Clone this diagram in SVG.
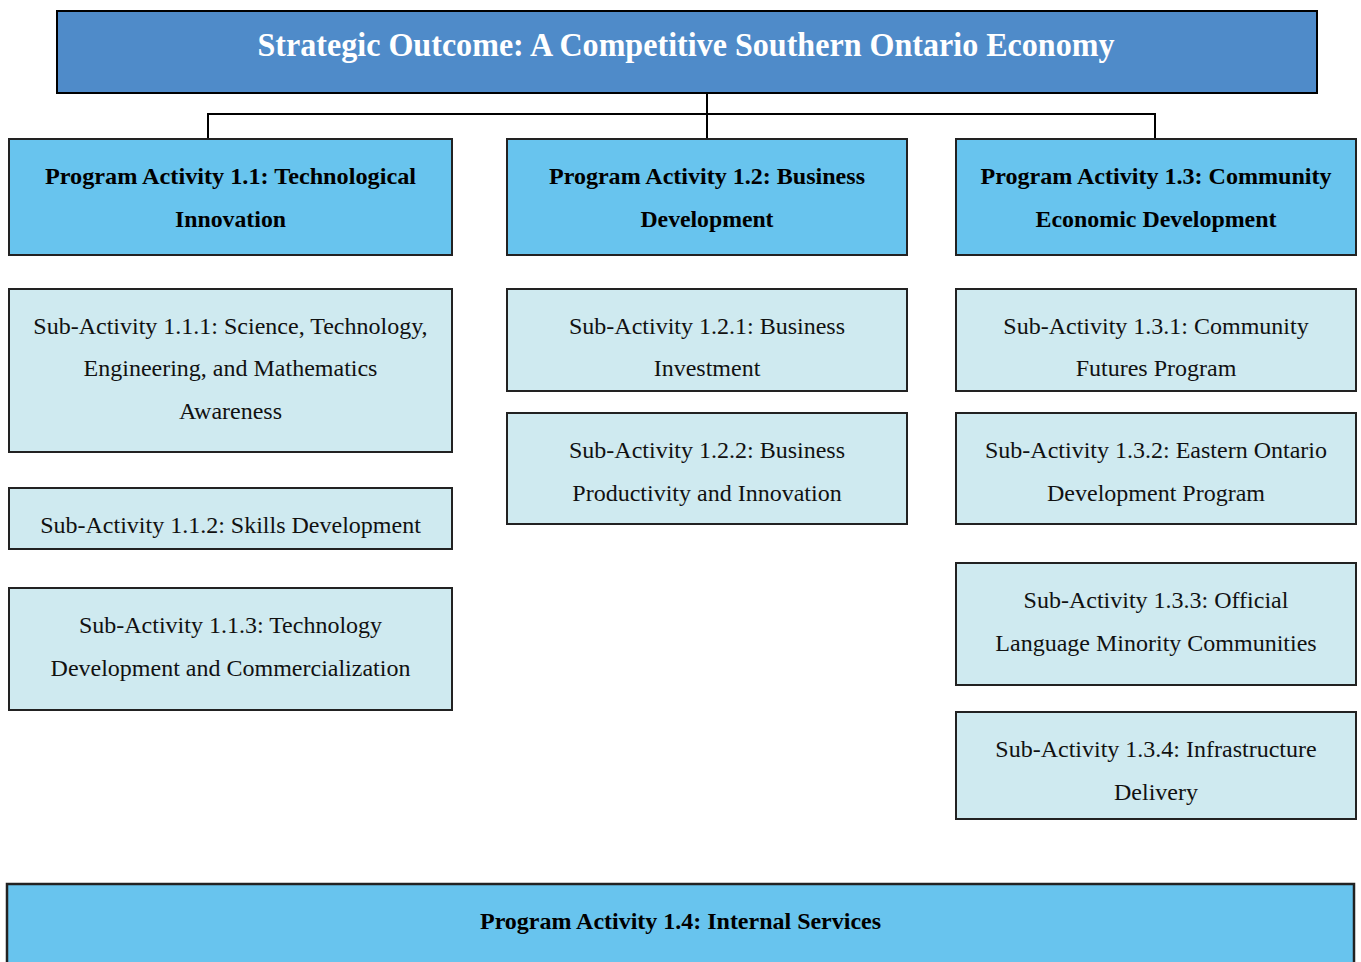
<svg xmlns="http://www.w3.org/2000/svg" width="1361" height="962" viewBox="0 0 1361 962">
<style>
.top{fill:#4F8BC9;stroke:#000;stroke-width:2}
.pa{fill:#68C4EE;stroke:#222;stroke-width:2}
.sa{fill:#CFEAF0;stroke:#222;stroke-width:2}
.tt{font-family:"Liberation Serif","Times New Roman",serif;font-weight:bold;font-size:34px;fill:#fff;text-anchor:middle}
.pt{font-family:"Liberation Serif","Times New Roman",serif;font-weight:bold;font-size:24px;fill:#000;text-anchor:middle}
.st{font-family:"Liberation Serif","Times New Roman",serif;font-size:24px;fill:#111;text-anchor:middle}
.cn{fill:none;stroke:#000;stroke-width:2}
</style>
<rect width="1361" height="962" fill="#fff"/>
<g id="connectors">
<line class="cn" x1="707" y1="90" x2="707" y2="139"/>
<polyline class="cn" points="208,139 208,114 1155,114 1155,139"/>
</g>
<g id="strategic-outcome">
<rect class="top" x="57" y="11" width="1260" height="82"/>
<text class="tt" x="686" y="56" textLength="857" lengthAdjust="spacingAndGlyphs">Strategic Outcome: A Competitive Southern Ontario Economy</text>
</g>
<g id="pa-1-1">
<rect class="pa" x="9" y="139" width="443" height="116"/>
<text class="pt" x="230.5" y="184" textLength="371" lengthAdjust="spacingAndGlyphs">Program Activity 1.1: Technological</text>
<text class="pt" x="230.5" y="227" textLength="111" lengthAdjust="spacingAndGlyphs">Innovation</text>
</g>
<g id="pa-1-2">
<rect class="pa" x="507" y="139" width="400" height="116"/>
<text class="pt" x="707" y="184" textLength="316" lengthAdjust="spacingAndGlyphs">Program Activity 1.2: Business</text>
<text class="pt" x="707" y="227" textLength="133" lengthAdjust="spacingAndGlyphs">Development</text>
</g>
<g id="pa-1-3">
<rect class="pa" x="956" y="139" width="400" height="116"/>
<text class="pt" x="1156" y="184" textLength="351" lengthAdjust="spacingAndGlyphs">Program Activity 1.3: Community</text>
<text class="pt" x="1156" y="227" textLength="241" lengthAdjust="spacingAndGlyphs">Economic Development</text>
</g>
<g id="sa-1-1-1">
<rect class="sa" x="9" y="289" width="443" height="163"/>
<text class="st" x="230.5" y="334">Sub-Activity 1.1.1: Science, Technology,</text>
<text class="st" x="230.5" y="376">Engineering, and Mathematics</text>
<text class="st" x="230.5" y="419">Awareness</text>
</g>
<g id="sa-1-1-2">
<rect class="sa" x="9" y="488" width="443" height="61"/>
<text class="st" x="230.5" y="533">Sub-Activity 1.1.2: Skills Development</text>
</g>
<g id="sa-1-1-3">
<rect class="sa" x="9" y="588" width="443" height="122"/>
<text class="st" x="230.5" y="633">Sub-Activity 1.1.3: Technology</text>
<text class="st" x="230.5" y="676">Development and Commercialization</text>
</g>
<g id="sa-1-2-1">
<rect class="sa" x="507" y="289" width="400" height="102"/>
<text class="st" x="707" y="334">Sub-Activity 1.2.1: Business</text>
<text class="st" x="707" y="376">Investment</text>
</g>
<g id="sa-1-2-2">
<rect class="sa" x="507" y="413" width="400" height="111"/>
<text class="st" x="707" y="458">Sub-Activity 1.2.2: Business</text>
<text class="st" x="707" y="501">Productivity and Innovation</text>
</g>
<g id="sa-1-3-1">
<rect class="sa" x="956" y="289" width="400" height="102"/>
<text class="st" x="1156" y="334">Sub-Activity 1.3.1: Community</text>
<text class="st" x="1156" y="376">Futures Program</text>
</g>
<g id="sa-1-3-2">
<rect class="sa" x="956" y="413" width="400" height="111"/>
<text class="st" x="1156" y="458">Sub-Activity 1.3.2: Eastern Ontario</text>
<text class="st" x="1156" y="501">Development Program</text>
</g>
<g id="sa-1-3-3">
<rect class="sa" x="956" y="563" width="400" height="122"/>
<text class="st" x="1156" y="608">Sub-Activity 1.3.3: Official</text>
<text class="st" x="1156" y="651">Language Minority Communities</text>
</g>
<g id="sa-1-3-4">
<rect class="sa" x="956" y="712" width="400" height="107"/>
<text class="st" x="1156" y="757">Sub-Activity 1.3.4: Infrastructure</text>
<text class="st" x="1156" y="800">Delivery</text>
</g>
<g id="pa-1-4">
<rect class="pa" x="7" y="884" width="1347" height="90" style="stroke-width:2.5"/>
<text class="pt" x="680.5" y="929" textLength="401" lengthAdjust="spacingAndGlyphs">Program Activity 1.4: Internal Services</text>
</g>
</svg>
